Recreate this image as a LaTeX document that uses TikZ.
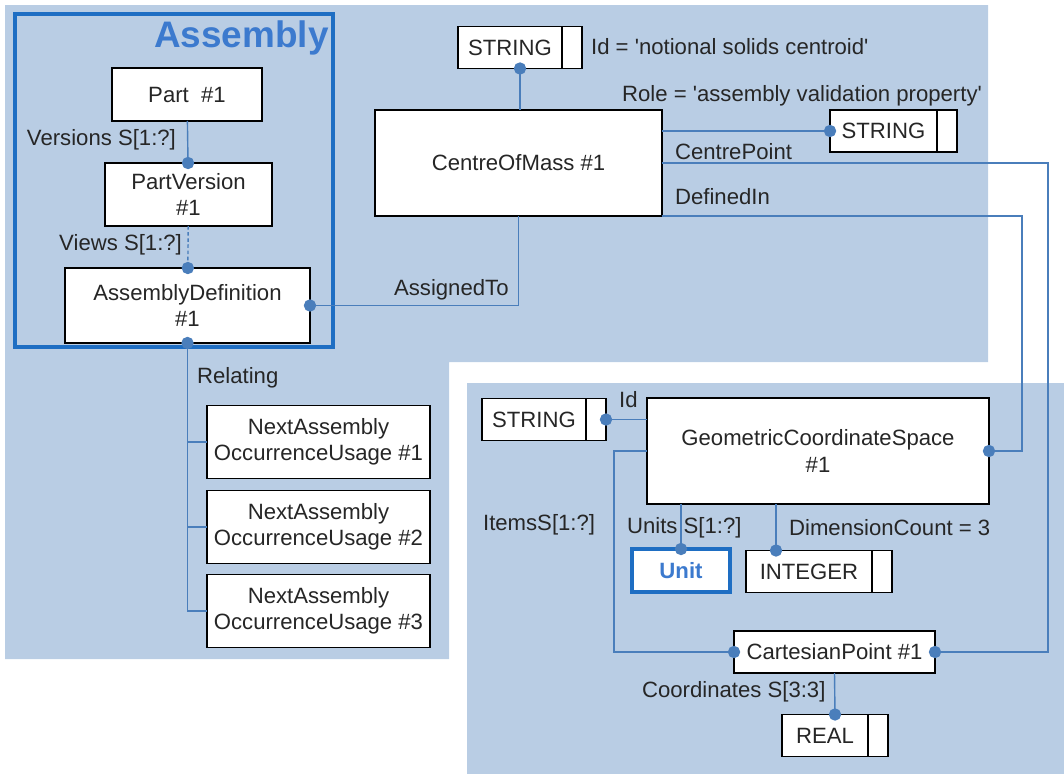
\documentclass[tikz,border=0pt]{standalone}
\usepackage{fontspec}
\setmainfont{Liberation Sans}
\usepackage{xcolor}
\usetikzlibrary{calc,positioning,arrows.meta,shapes}
\definecolor{panelblue}{RGB}{185,205,228}
\definecolor{linkblue}{RGB}{74,126,187}
\definecolor{frameblue}{RGB}{30,110,195}
\definecolor{titleblue}{RGB}{60,122,206}
\newcommand{\boxfont}{\fontsize{12.6}{15}\selectfont}
\newcommand{\sq}{\textquotesingle}

\tikzset{
  entity/.style={draw=black, fill=white, line width=0.8pt, align=center, font=\boxfont, text=black!85, inner sep=1pt, outer sep=0pt},
  typebox/.style={entity, minimum height=0.84cm, execute at end node={\hspace{0.4cm}},
    path picture={\draw[line width=1.6pt] ([xshift=-0.4cm]path picture bounding box.north east) -- ([xshift=-0.4cm]path picture bounding box.south east);}},
  selbox/.style={entity, draw=frameblue, line width=1.8pt, text=titleblue, font=\boxfont\bfseries},
  attr/.style={font=\boxfont, text=black!85, inner sep=1pt},
  link/.style={draw=linkblue, line width=0.8pt},
  dotend/.style={-{Circle[length=7pt]}, shorten >=-3.5pt},
  dotstart/.style={{Circle[length=7pt]}-, shorten <=-3.5pt}
}

\begin{document}
\begin{tikzpicture}[x=0.02cm, y=-0.02cm]
\useasboundingbox (0,0) rectangle (1064,774);
% panels
\fill [panelblue] (5,5) -- (988,5) -- (988,362) -- (449,362) -- (449,659) -- (5,659) -- cycle;
\fill [panelblue] (467,383) rectangle (1064,774);
\draw [frameblue, line width=1.8pt] (15,14) rectangle (333,347);
\node [font=\fontsize{21}{24}\selectfont\bfseries, text=titleblue, anchor=east, inner sep=0pt] (title) at (329,38) {Assembly};

% assembly side
\node [entity, minimum width=3cm, minimum height=1.06cm] (part) at (187,94.5) {Part\ \ \#1};
\node [entity, minimum width=3.34cm, minimum height=1.26cm] (pv) at (188.5,194.5) {PartVersion\\\#1};
\node [entity, minimum width=4.9cm, minimum height=1.5cm] (ad) at (187.5,305.5) {AssemblyDefinition\\\#1};
\foreach \k/\y in {1/442,2/527,3/611}
  \node [entity, minimum width=4.46cm, minimum height=1.46cm] (nau\k) at (318.5,\y) {NextAssembly\\OccurrenceUsage \#\k};

% centre of mass
\node [entity, minimum width=5.74cm, minimum height=2.12cm] (com) at (518.5,163) {CentreOfMass \#1};
\node [typebox, minimum width=2.48cm] (idstr) at (520,47.5) {STRING};
\node [typebox, minimum width=2.54cm] (rolestr) at (893.5,131) {STRING};

% coordinate space
\node [entity, minimum width=6.84cm, minimum height=2.12cm] (gcs) at (818,451) {GeometricCoordinateSpace\\\#1};
\node [typebox, minimum width=2.48cm] (gcsstr) at (544,419.5) {STRING};
\node [selbox, minimum width=1.96cm, minimum height=0.86cm] (unit) at (681,570.5) {Unit};
\node [typebox, minimum width=2.92cm] (int) at (819,571.5) {INTEGER};
\node [entity, minimum width=4.02cm, minimum height=0.84cm] (cp) at (834.5,652) {CartesianPoint \#1};
\node [typebox, minimum width=2.12cm] (real) at (835,735.5) {REAL};

% attribute names
\node [attr, anchor=east] (lversions) at (178,140) {Versions S[1:?]};
\node [attr, anchor=east] (lviews) at (184,245) {Views S[1:?]};
\node [attr, anchor=west] (lassigned) at (392,290) {AssignedTo};
\node [attr, anchor=west] (lrelating) at (195,378) {Relating};
\node [attr, anchor=west] (lid) at (589,47) {Id = \sq notional solids centroid\sq};
\node [attr, anchor=west] (lrole) at (620,96) {Role = \sq assembly validation property\sq};
\node [attr, anchor=west] (lcentre) at (673,152) {CentrePoint};
\node [attr, anchor=west] (ldefined) at (673,197) {DefinedIn};
\node [attr, anchor=west] (lgcsid) at (617,400) {Id};
\node [attr, anchor=west] (litems) at (481,525) {ItemsS[1:?]};
\node [attr, anchor=west] (lunits) at (625,528) {Units S[1:?]};
\node [attr, anchor=west] (ldim) at (787,528) {DimensionCount = 3};
\node [attr, anchor=west] (lcoords) at (640,692) {Coordinates S[3:3]};

% turning points
\coordinate (rimA) at (1048,0);
\coordinate (rimB) at (1022,0);
\coordinate (rimC) at (614,0);
\coordinate (intdot) at ([xshift=0.6cm]int.north west);

% links
\draw [link, dotend] (part) -- (pv);
\draw [link, dotend, dash pattern=on 2pt off 1.5pt] (pv) -- (ad);
\draw [link, dotstart] (ad.east) -| (com.south);
\draw [link, dotstart] (ad.south) |- (nau3.west);
\draw [link] (ad.south) |- (nau1.west);
\draw [link] (ad.south) |- (nau2.west);
\draw [link, dotstart] (idstr.south) -- (idstr.south |- com.north);
\draw [link, dotend] (rolestr.west -| com.east) -- (rolestr.west);
\draw [link, dotend] (com.east) -- (com.east -| rimA) |- (cp.east);
\draw [link, dotend] (com.south east) -- (com.south east -| rimB) |- (gcs.east);
\draw [link, dotend] (gcsstr.east -| gcs.west) -- (gcsstr.east);
\draw [link, dotend] (gcs.west) -- (gcs.west -| rimC) |- (cp.west);
\draw [link, dotend] (gcs.south -| unit.north) -- (unit.north);
\draw [link, dotend] (gcs.south -| intdot) -- (intdot);
\draw [link, dotend] (cp.south) -- (real.north);

\end{tikzpicture}
\end{document}
